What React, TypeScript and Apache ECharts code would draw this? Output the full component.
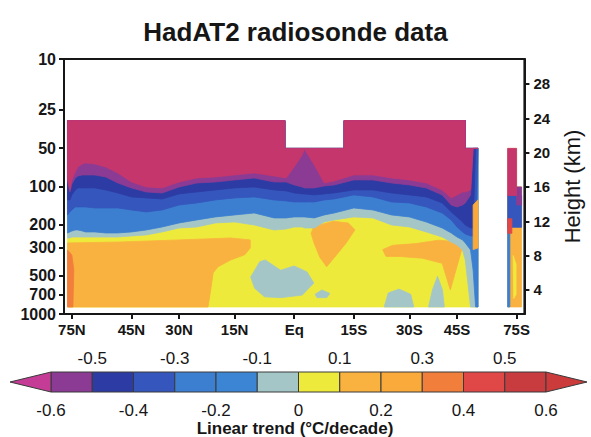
import React, { useEffect, useRef } from 'react';
import * as echarts from 'echarts';

const FONT = '"Liberation Sans", Arial, Helvetica, sans-serif';
const INK = '#161616';

// Axis ticks
const latitudeTicks = [75, 45, 30, 15, 0, -15, -30, -45, -75];
const pressureTicks = [10, 25, 50, 100, 200, 300, 500, 700, 1000];
const heightTicks = [4, 8, 12, 16, 20, 24, 28];

// Trend classes (°C/decade) and their colours
const trendLevels = [-0.6, -0.5, -0.4, -0.3, -0.2, -0.1, 0, 0.1, 0.2, 0.3, 0.4, 0.5, 0.6];
const trendColors = ['#8b3b93', '#2d3ca4', '#3557bd', '#3c7fd1', '#3b85d4', '#a4c6c6', '#eeea3c', '#f9b23f', '#f9aa3b', '#f17f3b', '#e04848', '#c83b3f'];
const belowFill = '#c5366d';
const belowArrow = '#c43c96';
const aboveFill = '#cc3b3b';

// Height of the 1000 hPa surface and scale height (km) used for the km axis
const heightAt1000 = 1.2;
const scaleHeight = 6.45;

// Outer edge of the gridded record (latitude °, height km)
const mainTop = [[80, 23.73], [2.3, 23.73], [2.3, 20.49], [-12.5, 20.49], [-12.5, 23.73], [-48, 23.73], [-48, 20.49], [-53, 20.49]];
const mainFloor = 2.02;

// Latitudes at which the lower edges of the stratospheric / upper-tropospheric layers are given
const edgeLats = [80, 77, 75, 72, 70, 67, 65, 60, 55, 50, 45, 40, 35, 30, 25, 20, 15, 10, 5, 2, 0, -2, -2.5, -5, -7.5, -10, -15, -20, -25, -30, -35, -40, -43, -45, -47, -48, -50, -51, -52, -53];

// Lower edge (km) of each cooling layer
const edgeBelowMinus06 = [17.05, 15.65, 16.82, 17.75, 18.33, 18.68, 18.8, 18.68, 18.33, 17.63, 16.58, 16.0, 15.89, 16.58, 17.05, 17.17, 17.4, 17.63, 17.28, 17.05, 18.33, 19.73, 20.45, 18.57, 16.47, 16.7, 17.4, 17.4, 17.05, 16.82, 16.47, 15.65, 14.72, 15.07, 15.42, 15.42, 15.65, 20.49, 20.49, 20.49];
const edgeMinus06to05 = [16.82, 15.42, 16.35, 17.05, 17.28, 17.4, 17.4, 17.4, 17.17, 16.47, 15.89, 15.42, 15.3, 16.0, 16.47, 16.58, 16.82, 17.05, 16.58, 16.58, 16.24, 16.0, 15.89, 15.89, 16.12, 16.24, 16.82, 16.82, 16.47, 16.24, 15.89, 15.07, 13.9, 13.67, 13.9, 14.14, 15.07, 20.49, 20.49, 20.49];
const edgeMinus05to04 = [14.49, 14.49, 15.07, 15.65, 15.89, 15.89, 15.89, 15.89, 15.65, 15.3, 14.84, 14.72, 14.6, 15.19, 15.42, 15.65, 15.89, 16.0, 15.65, 15.54, 15.3, 15.19, 15.19, 15.07, 15.19, 15.3, 15.65, 15.65, 15.3, 15.07, 14.84, 14.14, 13.09, 12.51, 11.92, 11.57, 11.22, 11.22, 20.49, 20.49];
const edgeMinus04to03 = [12.74, 13.09, 13.32, 13.67, 13.67, 13.67, 13.67, 13.55, 13.55, 13.55, 13.32, 13.09, 13.32, 13.9, 14.14, 14.49, 14.72, 14.84, 14.49, 14.37, 14.25, 14.25, 14.25, 14.25, 14.49, 14.6, 15.07, 14.84, 14.25, 14.14, 13.67, 12.97, 12.16, 11.34, 10.76, 10.52, 10.29, 10.29, 10.29, 20.49];
const edgeMinus03to01 = [10.64, 10.76, 10.87, 10.99, 10.99, 10.87, 10.76, 10.76, 10.64, 10.64, 10.76, 10.99, 11.34, 11.81, 12.16, 12.51, 12.74, 12.97, 12.39, 12.39, 12.51, 12.51, 12.51, 12.39, 12.74, 12.97, 13.55, 13.32, 12.74, 12.51, 11.92, 11.22, 10.64, 10.17, 9.83, 9.48, 8.66, 6.33, 2.02, 2.02];
const edgeMinus01to00 = [10.06, 10.06, 10.17, 10.17, 10.17, 10.17, 10.17, 10.17, 10.17, 10.17, 10.29, 10.41, 10.76, 11.22, 11.34, 11.81, 11.92, 11.57, 10.99, 11.1, 11.34, 11.34, 11.22, 11.22, 11.92, 12.16, 12.51, 12.39, 11.57, 11.34, 10.76, 10.17, 9.59, 9.24, 8.66, 7.49, 2.02, 2.02, 2.02, 2.02];

// Layers, painted from the lowest edge upwards, each with its class value
const layerTrends = [-0.05, -0.25, -0.35, -0.45, -0.55, -0.65];
const layerEdges = [edgeMinus01to00, edgeMinus03to01, edgeMinus04to03, edgeMinus05to04, edgeMinus06to05, edgeBelowMinus06];

// Tropospheric patches (latitude °, height km) under the layers
const tropTrends = [0.15, 0.35, -0.05, 0.15, 0.15, -0.05, -0.05, -0.05];
const tropOutlines = [
  [[80, 9.48], [49, 9.59], [30, 9.83], [16, 10.06], [11, 9.83], [11, 8.9], [12.4, 8.1], [16, 7.5], [19.3, 6.7], [20.6, 6.0], [21.4, 3.6], [22, 2.02], [80, 2.02]],
  [[80, 8.66], [75, 8.08], [73.2, 6.33], [74, 2.02], [80, 2.02]],
  [[10.9, 5.5], [8.6, 7.3], [7.2, 7.5], [3.4, 6.3], [0, 6.8], [-3.2, 6.1], [-4.9, 4.8], [-2, 3.4], [3.4, 3.1], [7.4, 3.2], [9.9, 4.2]],
  [[-4.2, 10.6], [-4.9, 11.4], [-9.8, 12.0], [-13.6, 11.8], [-15.3, 11.0], [-13.1, 9.5], [-10.1, 7.8], [-8.1, 6.7], [-6.4, 7.8], [-4.9, 9.5]],
  [[-22.6, 8.7], [-25.3, 9.2], [-31.9, 9.4], [-38.8, 9.8], [-45.5, 9.6], [-46.7, 8.7], [-42.7, 4.0], [-40, 7.1], [-33.8, 7.7], [-27.1, 7.9], [-23.5, 7.9]],
  [[-23, 2.02], [-24.1, 3.65], [-27.1, 4.1], [-30.4, 3.5], [-31.3, 2.02]],
  [[-35.7, 2.02], [-36.9, 4.0], [-38.5, 5.6], [-40.1, 4.0], [-40.7, 2.02]],
  [[-5.2, 3.5], [-6.9, 4.0], [-8.9, 3.6], [-8.1, 3.1], [-5.7, 3.1]],
];

// Warm streak at the southern edge, over the layers
const edgeStreakTrend = 0.25;
const edgeStreak = [[-51, 13.9], [-53, 14.5], [-53, 8.9], [-51, 8.7]];

// Antarctic column
const polarTrends = [0.15, -0.25, 0.05, -0.35, 0.45, -0.55, -0.65];
const polarOutlines = [
  [[-68, 20.49], [-75, 20.49], [-75, 16.0], [-81, 16.0], [-81, 2.02], [-68, 2.02]],
  [[-68, 11.6], [-69.5, 11.6], [-69.5, 2.02], [-68, 2.02]],
  [[-72, 8.0], [-74.5, 7.0], [-74.5, 3.5], [-72.5, 3.0]],
  [[-68, 15.0], [-81, 15.0], [-81, 11.3], [-68, 11.3]],
  [[-68, 12.3], [-71, 12.3], [-71, 10.6], [-68, 10.6]],
  [[-75, 16.0], [-81, 16.0], [-81, 13.9], [-75, 13.9]],
  [[-68, 20.49], [-75, 20.49], [-75, 15.0], [-68, 15.0]],
];

const sinLat = (lat: number) => Math.sin((lat * Math.PI) / 180);

function trendFill(t: number) {
  if (t < trendLevels[0]) return belowFill;
  if (t >= trendLevels[trendLevels.length - 1]) return aboveFill;
  let i = 0;
  while (i < trendColors.length - 1 && t >= trendLevels[i + 1]) i++;
  return trendColors[i];
}

function latLabel(v: number) {
  const lat = Math.round((Math.asin(Math.max(-1, Math.min(1, v))) * 180) / Math.PI);
  if (lat === 0) return 'Eq';
  return Math.abs(lat) + (lat > 0 ? 'N' : 'S');
}

function areaSeries(outline: number[][], trend: number) {
  const fill = trendFill(trend);
  const data = outline.map(([lat, h]) => [sinLat(lat), h]);
  return {
    type: 'custom',
    xAxisIndex: 0,
    yAxisIndex: 1,
    silent: true,
    clip: true,
    data,
    encode: { x: 0, y: 1 },
    renderItem: (params: any, api: any) => {
      if (params.dataIndex !== 0) return null;
      return {
        type: 'polygon',
        shape: { points: data.map((d) => api.coord(d)) },
        style: { fill, stroke: fill, lineWidth: 0.8 },
      };
    },
  };
}

function buildSeries() {
  const series: any[] = [];
  series.push(areaSeries([...mainTop, [-53, mainFloor], [80, mainFloor]], 0.05));
  tropOutlines.forEach((o, i) => series.push(areaSeries(o, tropTrends[i])));
  layerEdges.forEach((edge, k) => {
    const lower = edgeLats.map((lat, i) => [lat, edge[i]]).reverse();
    series.push(areaSeries([...mainTop, ...lower], layerTrends[k]));
  });
  series.push(areaSeries(edgeStreak, edgeStreakTrend));
  polarOutlines.forEach((o, i) => series.push(areaSeries(o, polarTrends[i])));
  return series;
}

function buildColorBar() {
  const bar = { x0: 51, x1: 546, y: 372, h: 20, tipL: 10, tipR: 587 };
  const step = (bar.x1 - bar.x0) / (trendLevels.length - 1);
  const edge = '#3a3a3a';
  const els: any[] = [];
  trendColors.forEach((c, i) => {
    els.push({
      type: 'rect',
      shape: { x: bar.x0 + i * step, y: bar.y, width: step, height: bar.h },
      style: { fill: c, stroke: edge, lineWidth: 1 },
    });
  });
  els.push({
    type: 'polygon',
    shape: { points: [[bar.tipL, bar.y + bar.h / 2], [bar.x0, bar.y], [bar.x0, bar.y + bar.h]] },
    style: { fill: belowArrow, stroke: edge, lineWidth: 1 },
  });
  els.push({
    type: 'polygon',
    shape: { points: [[bar.tipR, bar.y + bar.h / 2], [bar.x1, bar.y], [bar.x1, bar.y + bar.h]] },
    style: { fill: aboveFill, stroke: edge, lineWidth: 1 },
  });
  trendLevels.forEach((v, i) => {
    els.push({
      type: 'text',
      x: bar.x0 + i * step,
      y: i % 2 === 1 ? 358 : 410,
      style: {
        text: v === 0 ? '0' : v.toFixed(1),
        fontSize: 17,
        fontFamily: FONT,
        fill: INK,
        align: 'center',
        verticalAlign: 'middle',
      },
    });
  });
  els.push({
    type: 'text',
    x: 295,
    y: 428,
    style: {
      text: 'Linear trend (°C/decade)',
      fontSize: 17,
      fontWeight: 'bold',
      fontFamily: FONT,
      fill: INK,
      align: 'center',
      verticalAlign: 'middle',
    },
  });
  return els;
}

export default function App() {
  const ref = useRef<HTMLDivElement>(null);

  useEffect(() => {
    document.body.style.margin = '0';
    if (!ref.current) return;
    const chart = echarts.init(ref.current, null, { renderer: 'svg' });
    const axisLine = { show: true, onZero: false, lineStyle: { color: INK, width: 2 } };
    const tick = { show: true, length: 5, lineStyle: { color: INK, width: 2 } };
    const label = { color: INK, fontWeight: 'bold', fontFamily: FONT };
    const latValues = latitudeTicks.map(sinLat);
    const logValues = pressureTicks.map((p) => Math.log10(p));

    chart.setOption({
      animation: false,
      backgroundColor: '#ffffff',
      title: {
        text: 'HadAT2 radiosonde data',
        left: 'center',
        top: 14,
        textStyle: { fontSize: 26, fontWeight: 'bold', color: INK, fontFamily: FONT },
      },
      grid: {
        left: 64,
        right: 61,
        top: 59,
        bottom: 123,
        show: true,
        borderColor: INK,
        borderWidth: 2,
        containLabel: false,
      },
      xAxis: {
        type: 'value',
        min: -1,
        max: 1,
        inverse: true,
        axisLine,
        axisTick: { ...tick, customValues: latValues },
        axisLabel: { ...label, fontSize: 15, margin: 8, customValues: latValues, formatter: latLabel },
        splitLine: { show: false },
      },
      yAxis: [
        {
          type: 'value',
          position: 'left',
          min: 1,
          max: 3,
          inverse: true,
          axisLine,
          axisTick: { ...tick, customValues: logValues },
          axisLabel: {
            ...label,
            fontSize: 16,
            margin: 8,
            customValues: logValues,
            formatter: (v: number) => String(Math.round(Math.pow(10, v))),
          },
          splitLine: { show: false },
        },
        {
          type: 'value',
          position: 'right',
          min: heightAt1000,
          max: heightAt1000 + scaleHeight * Math.log(100),
          axisLine,
          axisTick: { ...tick, customValues: heightTicks },
          axisLabel: { ...label, fontSize: 15, margin: 9, customValues: heightTicks },
          splitLine: { show: false },
          name: 'Height (km)',
          nameLocation: 'middle',
          nameRotate: 90,
          nameGap: 32,
          nameTextStyle: { fontSize: 22, color: INK, fontFamily: FONT },
        },
      ],
      graphic: buildColorBar(),
      series: buildSeries(),
    });
    return () => chart.dispose();
  }, []);

  return <div ref={ref} style={{ width: 591, height: 437 }} />;
}
